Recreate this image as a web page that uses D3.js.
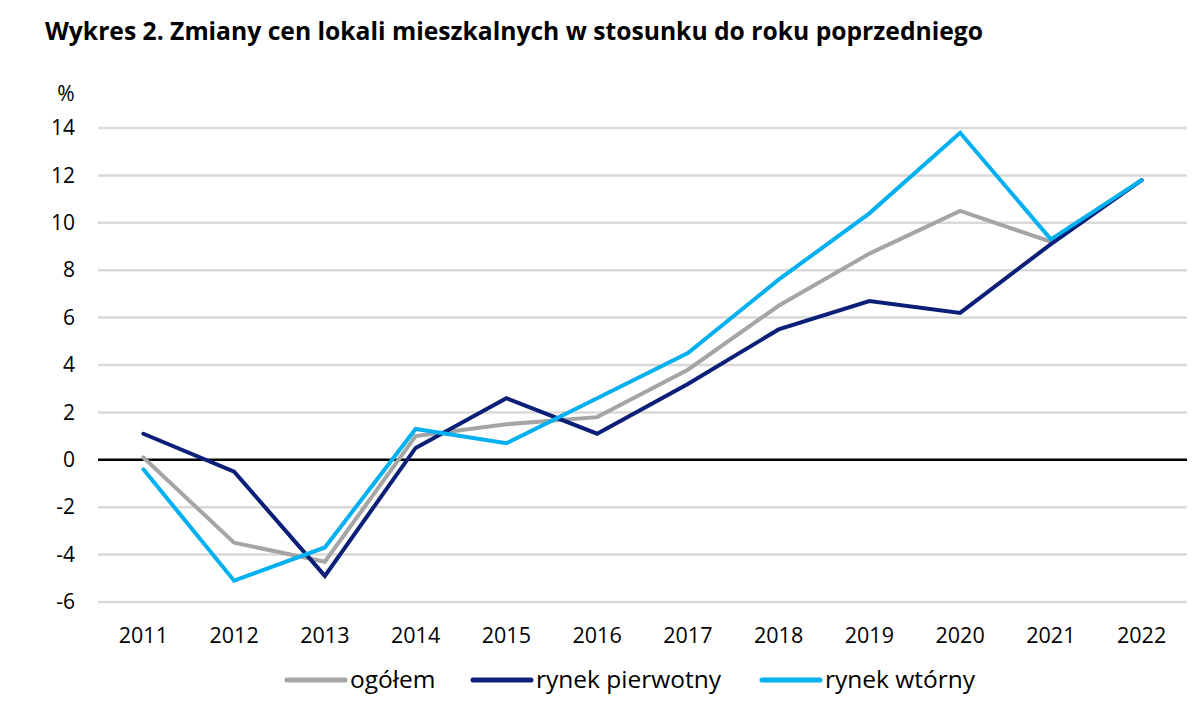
<!DOCTYPE html>
<html><head><meta charset="utf-8">
<script src="https://cdn.jsdelivr.net/npm/d3@7"></script>
<style>body{margin:0;background:#fff}svg{display:block}</style>
</head><body><svg id="c" width="1200" height="720"></svg>
<script>
const years = ["2011","2012","2013","2014","2015","2016","2017","2018","2019","2020","2021","2022"];
const ogolem = [0.1,-3.5,-4.3,1.0,1.5,1.8,3.8,6.5,8.7,10.5,9.2,11.8];
const pierwotny = [1.1,-0.5,-4.9,0.5,2.6,1.1,3.2,5.5,6.7,6.2,9.1,11.8];
const wtorny = [-0.4,-5.1,-3.7,1.3,0.7,2.6,4.5,7.6,10.4,13.8,9.3,11.8];
const yTicks = [-6,-4,-2,0,2,4,6,8,10,12,14];
const seriesNames = ["ogółem","rynek pierwotny","rynek wtórny"];
const seriesColors = ["#A5A5A5","#0B1F78","#00B0F0"];
const title = "Wykres 2. Zmiany cen lokali mieszkalnych w stosunku do roku poprzedniego";

const FONT = "'Open Sans', 'Noto Sans', sans-serif";
const svg = d3.select("#c");
const series = [ogolem, pierwotny, wtorny];

const x = d3.scaleBand().domain(years).range([98, 1187]);
const y = d3.scaleLinear().domain([-6, 14]).range([602, 128]);

svg.append("text").attr("x", 45).attr("y", 40).text(title)
  .attr("font-family", FONT).attr("font-weight", "bold").attr("font-size", 24.6)
  .attr("textLength", 938).attr("lengthAdjust", "spacingAndGlyphs").attr("fill", "#000");

// gridlines
svg.append("g").selectAll("line").data(yTicks.filter(d => d !== 0)).join("line")
  .attr("x1", 98).attr("x2", 1187)
  .attr("y1", d => y(d)).attr("y2", d => y(d))
  .attr("stroke", "#D9D9D9").attr("stroke-width", 2.5);

// y labels
const yAxis = d3.axisLeft(y).tickValues(yTicks).tickSize(0).tickPadding(0).tickFormat(d => d);
const gy = svg.append("g").attr("transform", "translate(75,0)").call(yAxis);
gy.select(".domain").remove();
gy.selectAll("text").attr("font-family", FONT).attr("font-size", 21).attr("fill", "#000");

svg.append("text").attr("x", 66).attr("y", 101).attr("text-anchor", "middle").text("%")
  .attr("font-family", FONT).attr("font-size", 21).attr("fill", "#000");

// zero line
svg.append("line").attr("x1", 98).attr("x2", 1187).attr("y1", y(0)).attr("y2", y(0))
  .attr("stroke", "#000").attr("stroke-width", 2.5);

// x labels
const xAxis = d3.axisBottom(x).tickSize(0).tickPadding(0);
const gx = svg.append("g").attr("transform", "translate(0,643)").call(xAxis);
gx.select(".domain").remove();
gx.selectAll("text").attr("font-family", FONT).attr("font-size", 21.5).attr("fill", "#000").attr("dy", 0).attr("y", 0);

// lines
const line = d3.line().x((d, i) => x(years[i]) + x.bandwidth() / 2).y(d => y(d));
series.forEach((s, k) => {
  svg.append("path").datum(s).attr("d", line).attr("fill", "none")
    .attr("stroke", seriesColors[k]).attr("stroke-width", 4)
    .attr("stroke-linejoin", "miter").attr("stroke-linecap", "round");
});

// legend
const legX = [287, 473, 762];
const leg = svg.append("g");
seriesNames.forEach((n, k) => {
  leg.append("line").attr("x1", legX[k]).attr("x2", legX[k] + 58).attr("y1", 680).attr("y2", 680)
    .attr("stroke", seriesColors[k]).attr("stroke-width", 5).attr("stroke-linecap", "round");
  leg.append("text").attr("x", legX[k] + 63).attr("y", 688).text(n)
    .attr("font-family", FONT).attr("font-size", 24.5).attr("fill", "#000");
});
</script></body></html>
